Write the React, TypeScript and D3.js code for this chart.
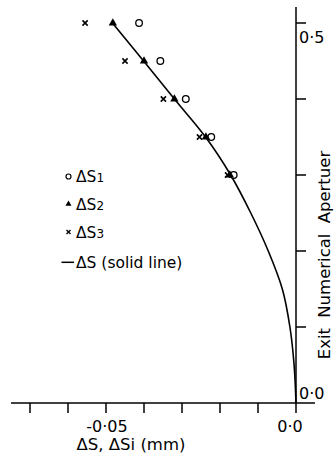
import React from 'react';
import * as d3 from 'd3';

// numerical aperture levels where the three measurements were taken
const naLevels = [0.5, 0.45, 0.4, 0.35, 0.3];
const ds1 = [-0.0413, -0.0357, -0.029, -0.0223, -0.0164];
const ds2 = [-0.0482, -0.04, -0.032, -0.0237, -0.0174];
const ds3 = [-0.0555, -0.045, -0.0349, -0.0254, -0.018];

// solid line: ΔS vs exit NA
const curveNA = [0, 0.05, 0.1, 0.15, 0.2, 0.25, 0.3, 0.35, 0.4, 0.45, 0.5];
const curveDS = [0, -0.0005, -0.0016, -0.0036, -0.0073, -0.0119, -0.0172, -0.0238, -0.032, -0.0401, -0.0483];

const xTicks = [-0.07, -0.06, -0.05, -0.04, -0.03, -0.02, -0.01];
const xTickLabels = [-0.05, 0];
const yTicks = [0.1, 0.2, 0.3, 0.4, 0.5];

const fmt = (v: number) => (v === 0 ? '0·0' : String(v).replace('.', '·'));

export default function App() {
  const width = 335;
  const height = 454;
  const font = 'DejaVu Sans, sans-serif';

  const x = d3.scaleLinear().domain([-0.05, 0]).range([106, 296]);
  const y = d3.scaleLinear().domain([0, 0.5]).range([403, 23]);

  const line = d3.line<number>()
    .x((d, i) => x(curveDS[i]))
    .y(d => y(d))
    .curve(d3.curveMonotoneY);

  const tri = d3.symbol().type(d3.symbolTriangle).size(30);
  const triSmall = d3.symbol().type(d3.symbolTriangle).size(16);

  const cross = (cx: number, cy: number, s: number) =>
    `M${cx - s},${cy - s}L${cx + s},${cy + s}M${cx - s},${cy + s}L${cx + s},${cy - s}`;

  const x0 = x(0);

  return (
    <svg width={width} height={height} style={{ position: 'absolute', left: 0, top: 0, background: '#fff' }}>
      {/* axes */}
      <line x1={x0} x2={x0} y1={7} y2={413} stroke="#000" strokeWidth={1.5} />
      <line x1={11} x2={315} y1={y(0)} y2={y(0)} stroke="#000" strokeWidth={1.5} />
      {xTicks.map(t => (
        <line key={t} x1={x(t)} x2={x(t)} y1={y(0)} y2={y(0) + 10} stroke="#000" strokeWidth={1.5} />
      ))}
      {yTicks.map(t => (
        <line key={t} x1={x0} x2={x0 + 10} y1={y(t)} y2={y(t)} stroke="#000" strokeWidth={1.5} />
      ))}
      {xTickLabels.map(t => (
        <text key={t} x={t === 0 ? x(t) - 6 : x(t) + 1} y={432} fontSize={16} fontFamily={font} textAnchor="middle">
          {fmt(t)}
        </text>
      ))}
      <text x={x0 + 3} y={43} fontSize={16} fontFamily={font}>{fmt(0.5)}</text>
      <text x={x0 + 3} y={399} fontSize={16} fontFamily={font}>{fmt(0)}</text>

      <text x={131} y={450} fontSize={16.5} fontFamily={font} textAnchor="middle">ΔS, ΔSi (mm)</text>
      <text transform="translate(329.5,255) rotate(-90)" fontSize={16.5} fontFamily={font} textAnchor="middle" wordSpacing={5}>
        Exit Numerical Apertuer
      </text>

      {/* solid line */}
      <path d={line(curveNA) || ''} fill="none" stroke="#000" strokeWidth={1.6} />

      {/* measured points */}
      {naLevels.map((na, i) => (
        <g key={na}>
          <circle cx={x(ds1[i])} cy={y(na)} r={3.3} fill="#fff" stroke="#000" strokeWidth={1.3} />
          <path d={tri() || ''} transform={`translate(${x(ds2[i])},${y(na)})`} fill="#000" />
          <path d={cross(x(ds3[i]), y(na), 2.6)} stroke="#000" strokeWidth={1.6} />
        </g>
      ))}

      {/* legend */}
      <g fontFamily={font} fontSize={15.5}>
        <circle cx={68.5} cy={176.5} r={2.5} fill="none" stroke="#000" strokeWidth={1.2} />
        <text x={76} y={182}>ΔS<tspan fontSize={12}>1</tspan></text>
        <path d={triSmall() || ''} transform="translate(68.5,204)" fill="#000" />
        <text x={76} y={209.5}>ΔS<tspan fontSize={12}>2</tspan></text>
        <path d={cross(68.5, 232, 2)} stroke="#000" strokeWidth={1.4} />
        <text x={76} y={237.5}>ΔS<tspan fontSize={12}>3</tspan></text>
        <line x1={61.5} x2={74} y1={262.3} y2={262.3} stroke="#000" strokeWidth={1.5} />
        <text x={76} y={267.5}>ΔS (solid line)</text>
      </g>
    </svg>
  );
}
